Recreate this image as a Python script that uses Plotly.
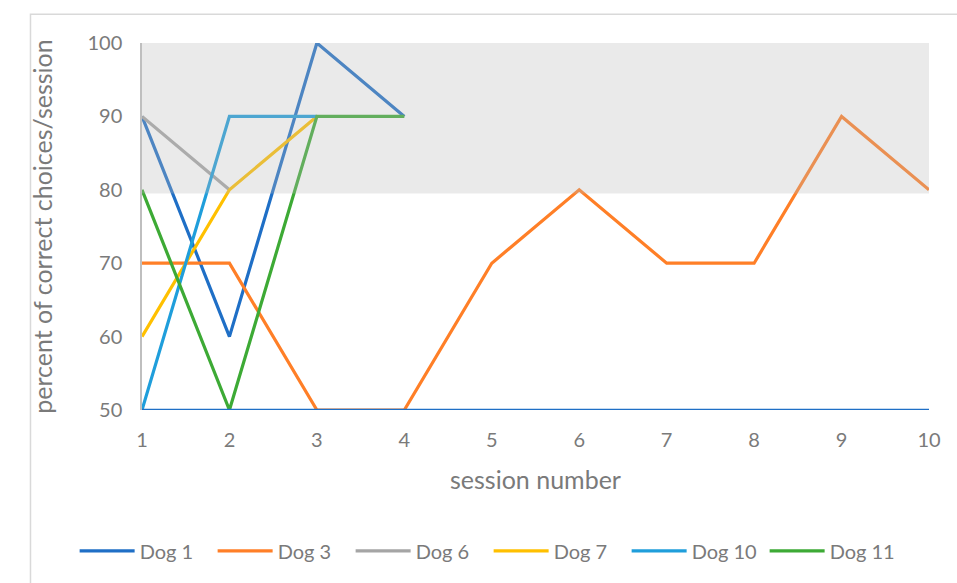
import plotly.graph_objects as go

# Session numbers and per-dog percent correct
sessions = [1, 2, 3, 4, 5, 6, 7, 8, 9, 10]
dog_1 = [90, 60, 100, 90]
dog_3 = [70, 70, 50, 50, 70, 80, 70, 70, 90, 80]
dog_6 = [90, 80]
dog_7 = [60, 80, 90]
dog_10 = [50, 90, 90]
dog_11 = [80, 50, 90, 90]
chance_level = [50] * 10

series_names = ["Dog 1", "Dog 3", "Dog 6", "Dog 7", "Dog 10", "Dog 11"]
series_values = [dog_1, dog_3, dog_6, dog_7, dog_10, dog_11]
series_colors = ["#1F6FC6", "#FF7F27", "#A5A5A5", "#FFC000", "#1F9EDB", "#3DAA35"]

# Criterion band (percent correct)
band_low, band_high = 79.5, 100

text_gray = "#7A7A7A"
font_family = "Lato, 'Open Sans', sans-serif"

fig = go.Figure()

for name, vals, color in zip(series_names, series_values, series_colors):
    fig.add_trace(go.Scatter(
        x=sessions[:len(vals)], y=vals, name=name, mode="lines",
        line=dict(color=color, width=3.2),
    ))

# Chance-level reference line across all sessions
fig.add_trace(go.Scatter(
    x=sessions, y=chance_level, mode="lines", showlegend=False,
    line=dict(color="#1F6FC6", width=2.4), hoverinfo="skip",
))

# Shaded criterion band laid over the lines
fig.add_shape(type="rect", xref="x", yref="y",
              x0=sessions[0], x1=sessions[-1], y0=band_low, y1=band_high,
              fillcolor="rgba(185,185,185,0.30)", line=dict(width=0),
              layer="above")

# Chart frame
fig.add_shape(type="rect", xref="paper", yref="paper",
              x0=-0.1417, x1=1.05, y0=-0.5, y1=1.0785,
              line=dict(color="#D9D9D9", width=1.5),
              fillcolor="rgba(0,0,0,0)", layer="below")

fig.update_layout(
    width=957, height=583,
    margin=dict(l=142, r=28, t=43, b=173),
    paper_bgcolor="white", plot_bgcolor="white",
    font=dict(family=font_family, color=text_gray),
    showlegend=True,
    legend=dict(
        orientation="h", xref="paper", yref="paper",
        x=-0.0856, xanchor="left", y=-0.384, yanchor="middle",
        font=dict(size=20, color=text_gray), itemwidth=55,
        entrywidth=68, entrywidthmode="pixels",
        traceorder="normal",
    ),
)

fig.update_xaxes(
    range=[1, 10], tickmode="array", tickvals=sessions,
    ticktext=[str(s) for s in sessions],
    showgrid=False, zeroline=False, showline=False,
    ticks="", ticklabelstandoff=16,
    tickfont=dict(size=20, color=text_gray),
    title=dict(text="session number", font=dict(size=25, color=text_gray), standoff=21),
)

fig.update_yaxes(
    range=[50, 100], tickmode="array", tickvals=[50, 60, 70, 80, 90, 100],
    showgrid=False, zeroline=False,
    showline=True, linecolor="#BFBFBF", linewidth=1.5,
    ticks="", ticklabelstandoff=14,
    tickfont=dict(size=20, color=text_gray),
    title=dict(text="percent of correct choices/session",
               font=dict(size=25, color=text_gray), standoff=28),
)

fig.write_html("out.html")
